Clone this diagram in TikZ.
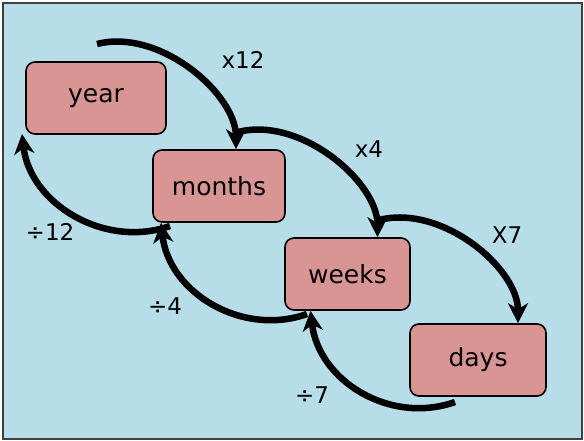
\documentclass[tikz,border=0pt]{standalone}
\usepackage{fontspec}
\setmainfont{DejaVu Sans}
\usetikzlibrary{arrows.meta}
\definecolor{bgblue}{HTML}{B7DEE8}
\definecolor{boxred}{HTML}{D99594}
\definecolor{frame}{HTML}{3F3F3F}
\tikzset{
  unitbox/.style={draw=black, line width=1.6pt, fill=boxred, rounded corners=9pt,
    minimum width=#1, minimum height=72pt, font=\fontsize{25}{29}\selectfont},
  conv/.style={line width=6.5pt, -{Stealth[length=20pt,width=20pt,inset=6pt]}},
  lbl/.style={font=\fontsize{23}{27}\selectfont}
}
\begin{document}
\begin{tikzpicture}[x=1pt,y=-1pt]
\useasboundingbox (0,0) rectangle (584,441);
\draw[frame, line width=1.5pt, fill=bgblue] (3,3) rectangle (582,439);
\node[unitbox=140pt] (year) at (96,98) {year};
\node[unitbox=132pt] (months) at (219,186) {months};
\node[unitbox=125pt] (weeks) at (347.5,274) {weeks};
\node[unitbox=136pt] (days) at (478,360) {days};
% forward arrows
\coordinate (s1) at (97,44);
\coordinate (s2) at (238,132);
\coordinate (s3) at (379,220);
\draw[conv] (s1) .. controls ++(63,-16) and ([xshift=17pt,yshift=55pt]months.north) .. ([xshift=17pt]months.north);
\draw[conv] (s2) .. controls ++(63,-16) and ([xshift=30pt,yshift=55pt]weeks.north) .. ([xshift=30pt]weeks.north);
\draw[conv] (s3) .. controls ++(63,-16) and ([xshift=40pt,yshift=55pt]days.north) .. ([xshift=40pt]days.north);
% backward arrows
\coordinate (r1) at (170,226);
\coordinate (r2) at (307,314);
\coordinate (r3) at (455,402);
\coordinate (t1) at (22,134);
\draw[conv] (r3) .. controls ++(-65,23) and ++(8,70) .. ([xshift=-37pt]weeks.south);
\draw[conv] (r2) .. controls ++(-65,23) and ++(8,70) .. ([xshift=-58pt]months.south);
\draw[conv] (r1) .. controls ++(-65,23) and ++(8,70) .. (t1);
% labels
\node[lbl] (l1) at (243,60) {x12};
\node[lbl] (l2) at (369,149) {x4};
\node[lbl] (l3) at (507,235) {X7};
\node[lbl] (l4) at (50,232) {÷12};
\node[lbl] (l5) at (165,306) {÷4};
\node[lbl] (l6) at (312,395) {÷7};
\end{tikzpicture}
\end{document}
